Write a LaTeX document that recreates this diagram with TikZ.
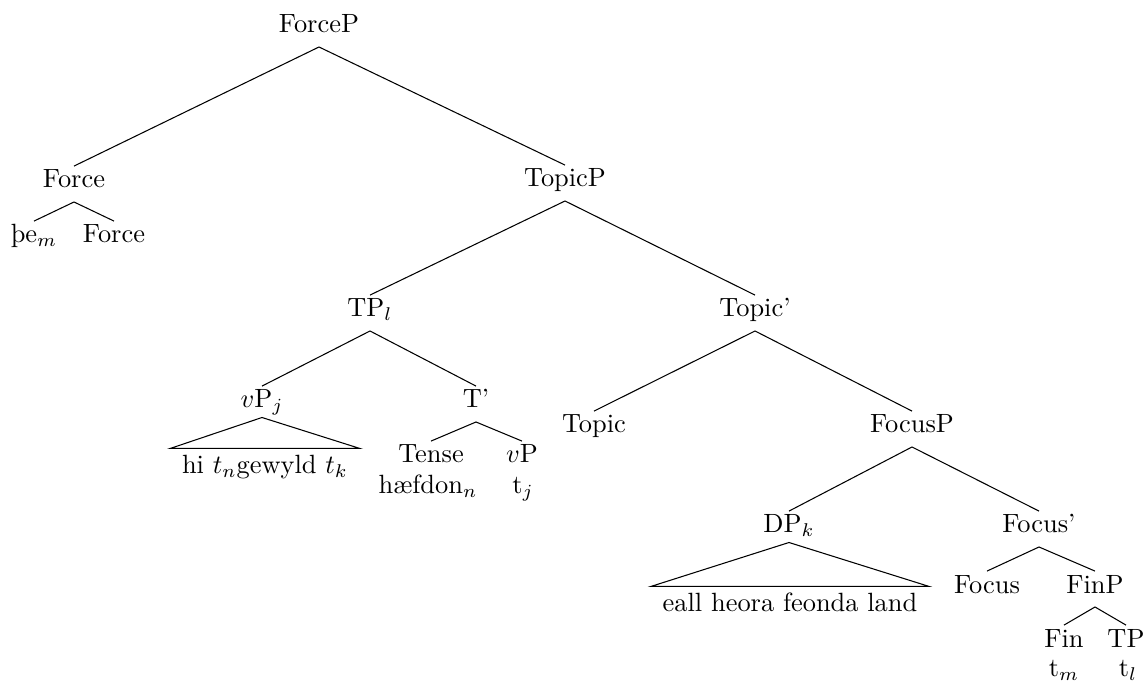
\documentclass[tikz,border=0pt]{standalone}
\usepackage{fontspec}
\begin{document}
\begin{tikzpicture}[x=0.3788pt,y=-0.3788pt,
  lab/.style={anchor=base, inner xsep=1pt, inner ysep=2.5pt, text height=5.6pt, text depth=2.6pt},
  sublab/.style={anchor=base, inner xsep=1pt, inner ysep=0pt, text height=6.2pt, text depth=1.5pt},
  roofp/.style={lab, text depth=0.9pt},
  roofleaf/.style={anchor=base, inner xsep=4.2pt, inner ysep=2.5pt, text height=7pt, text depth=2.6pt},
  br/.style={line width=0.4pt}]
\useasboundingbox (0,0) rectangle (1147,683);
% nodes
\node[lab] (forcep) at (319,33) {ForceP};
\node[lab] (force1) at (74,188) {Force};
\node[lab] (the) at (34,243) {þe$_m$};
\node[lab] (force2) at (114,243) {Force};
\node[lab] (topicp) at (565,187) {TopicP};
\node[lab] (tpl) at (370,317) {TP$_l$};
\node[lab] (topicbar) at (755,317) {Topic'};
\node[roofp] (vpj) at (262,408) {$v$P$_j$};
\node[roofleaf] (vproof) at (265,474) {hi $t_n$gewyld $t_k$};
\node[lab] (tbar) at (476,408) {T'};
\node[lab] (tense) at (431,463) {Tense};
\node[sublab] (haefdon) at (428,494) {hæfdon$_n$};
\node[lab] (vp) at (522,463) {$v$P};
\node[sublab] (tj) at (523,494) {t$_j$};
\node[lab] (topic) at (594,433) {Topic};
\node[lab] (focusp) at (912,433) {FocusP};
\node[roofp] (dpk) at (789,533) {DP$_k$};
\node[roofleaf] (dproof) at (790,612) {eall heora feonda land};
\node[lab] (focusbar) at (1039,533) {Focus'};
\node[lab] (focus) at (987,593) {Focus};
\node[lab] (finp) at (1095,593) {FinP};
\node[lab] (fin) at (1064,647) {Fin};
\node[lab] (tp) at (1126,647) {TP};
\node[sublab] (tm) at (1064,677) {t$_m$};
\node[sublab] (tl) at (1128,677) {t$_l$};
% branches
\draw[br] (force1.north) -- (forcep.south) -- (topicp.north);
\draw[br] (the.north) -- (force1.south) -- (force2.north);
\draw[br] (tpl.north) -- (topicp.south) -- (topicbar.north);
\draw[br] (vpj.north) -- (tpl.south) -- (tbar.north);
\draw[br] (vpj.south) -- (vproof.north west) -- (vproof.north east) -- cycle;
\draw[br] (tense.north) -- (tbar.south) -- (vp.north);
\draw[br] (topic.north) -- (topicbar.south) -- (focusp.north);
\draw[br] (dpk.north) -- (focusp.south) -- (focusbar.north);
\draw[br] (dpk.south) -- (dproof.north west) -- (dproof.north east) -- cycle;
\draw[br] (focus.north) -- (focusbar.south) -- (finp.north);
\draw[br] (fin.north) -- (finp.south) -- (tp.north);
\end{tikzpicture}
\end{document}
